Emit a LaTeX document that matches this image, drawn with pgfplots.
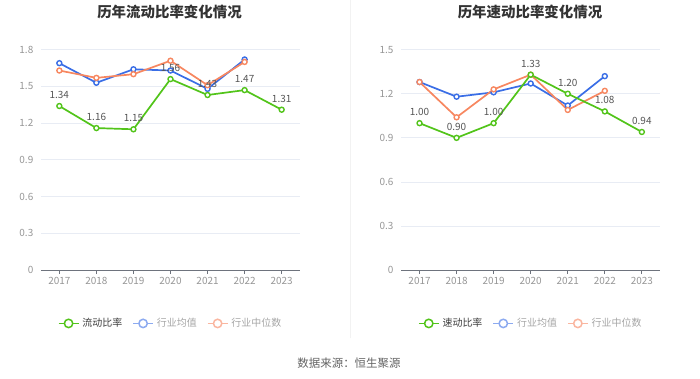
\documentclass[border=0pt]{standalone}
\usepackage{pgfplots}
\pgfplotsset{compat=1.18}
\usepackage{fontspec}
\setmainfont{Noto Sans CJK SC}
\definecolor{cgreen}{RGB}{82,196,26}
\definecolor{cblue}{RGB}{58,110,230}
\definecolor{corange}{RGB}{247,135,96}
\definecolor{lblue}{RGB}{140,170,240}
\definecolor{lorange}{RGB}{250,182,160}
\definecolor{tickgray}{RGB}{150,150,150}
\definecolor{gridc}{RGB}{232,236,244}
\definecolor{axisc}{RGB}{110,115,125}
\definecolor{divc}{RGB}{242,242,242}
\definecolor{titlec}{RGB}{51,51,51}
\definecolor{srcc}{RGB}{100,100,100}
\definecolor{labc}{RGB}{85,85,85}
\definecolor{leg1}{RGB}{60,60,60}
\definecolor{leg2}{RGB}{165,165,165}
\pgfplotsset{
  myax/.style={
    scale only axis, width=259.4bp, height=220.4bp,
    xmin=-0.5, xmax=6.5, ymin=0,
    xtick={0,...,6}, xticklabels={2017,2018,2019,2020,2021,2022,2023},
    axis x line*=bottom, axis y line*=left,
    y axis line style={draw=none},
    x axis line style={draw=axisc, line width=0.8bp},
    xtick style={draw=axisc, line width=0.8bp},
    ytick style={draw=none},
    tick align=outside, major tick length=4bp,
    ymajorgrids, grid style={gridc, line width=0.8bp},
    tick label style={font=\fontsize{10}{12}\selectfont, text=tickgray},
    /pgf/number format/assume math mode=true,
    clip=false,
    legend style={at={(0.5,-0.242)}, anchor=center, draw=none, fill=none,
      legend columns=3, font=\fontsize{10}{12}\selectfont,
      /tikz/every even column/.append style={column sep=8bp},
      /tikz/every odd column/.append style={column sep=1bp},
      legend cell align=left, inner sep=0pt},
    legend image code/.code={\draw[##1, mark=none] (0bp,0bp) -- (20bp,0bp);
      \draw[##1, only marks] plot coordinates {(10bp,0bp)};},
  },
  ser/.style={color=#1, line width=1.7bp, mark=*, mark size=2.5bp,
    mark options={fill=white, line width=1.4bp}},
  lg/.style={color=#1, line width=1.7bp, mark=*, mark size=4.2bp,
    mark options={fill=white, line width=1.5bp}},
  lab/.style={nodes near coords, point meta=explicit symbolic,
    every node near coord/.append style={font=\fontsize{10}{12}\selectfont,
      text=labc, anchor=south, yshift=3.5bp}},
}
\begin{document}
\begin{tikzpicture}
\path (0,0) rectangle (700bp,378bp);
\draw[divc, line width=0.8bp] (350bp,40bp) -- (350bp,378bp);
\node[font=\bfseries\fontsize{14.5}{16}\selectfont, text=titlec] at (169.5bp,366.5bp) {历年流动比率变化情况};
\node[font=\bfseries\fontsize{14.5}{16}\selectfont, text=titlec] at (530bp,366.5bp) {历年速动比率变化情况};
\node[font=\fontsize{11.5}{13}\selectfont, text=srcc] at (349bp,15.7bp) {数据来源：恒生聚源};

\begin{axis}[myax, at={(40.8bp,108.3bp)}, anchor=south west, ymax=1.8,
  ytick={0,0.3,0.6,0.9,1.2,1.5,1.8}, yticklabels={0,0.3,0.6,0.9,1.2,1.5,1.8}]
\addlegendimage{lg=cgreen}\addlegendentry{\textcolor{leg1}{流动比率}}
\addlegendimage{lg=lblue}\addlegendentry{\textcolor{leg2}{行业均值}}
\addlegendimage{lg=lorange}\addlegendentry{\textcolor{leg2}{行业中位数}}
\addplot[ser=cblue, forget plot] coordinates {(0,1.69) (1,1.53) (2,1.64) (3,1.63) (4,1.48) (5,1.72)};
\addplot[ser=corange, forget plot] coordinates {(0,1.63) (1,1.57) (2,1.60) (3,1.71) (4,1.51) (5,1.70)};
\addplot[ser=cgreen, lab, forget plot] coordinates {(0,1.34)[1.34] (1,1.16)[1.16] (2,1.15)[1.15] (3,1.56)[1.56] (4,1.43)[1.43] (5,1.47)[1.47] (6,1.31)[1.31]};
\end{axis}

\begin{axis}[myax, at={(401bp,108.3bp)}, anchor=south west, ymax=1.5,
  ytick={0,0.3,0.6,0.9,1.2,1.5}, yticklabels={0,0.3,0.6,0.9,1.2,1.5}]
\addlegendimage{lg=cgreen}\addlegendentry{\textcolor{leg1}{速动比率}}
\addlegendimage{lg=lblue}\addlegendentry{\textcolor{leg2}{行业均值}}
\addlegendimage{lg=lorange}\addlegendentry{\textcolor{leg2}{行业中位数}}
\addplot[ser=cblue, forget plot] coordinates {(0,1.28) (1,1.18) (2,1.21) (3,1.27) (4,1.12) (5,1.32)};
\addplot[ser=corange, forget plot] coordinates {(0,1.28) (1,1.04) (2,1.23) (3,1.33) (4,1.09) (5,1.22)};
\addplot[ser=cgreen, lab, forget plot] coordinates {(0,1.00)[1.00] (1,0.90)[0.90] (2,1.00)[1.00] (3,1.33)[1.33] (4,1.20)[1.20] (5,1.08)[1.08] (6,0.94)[0.94]};
\end{axis}
\end{tikzpicture}
\end{document}
